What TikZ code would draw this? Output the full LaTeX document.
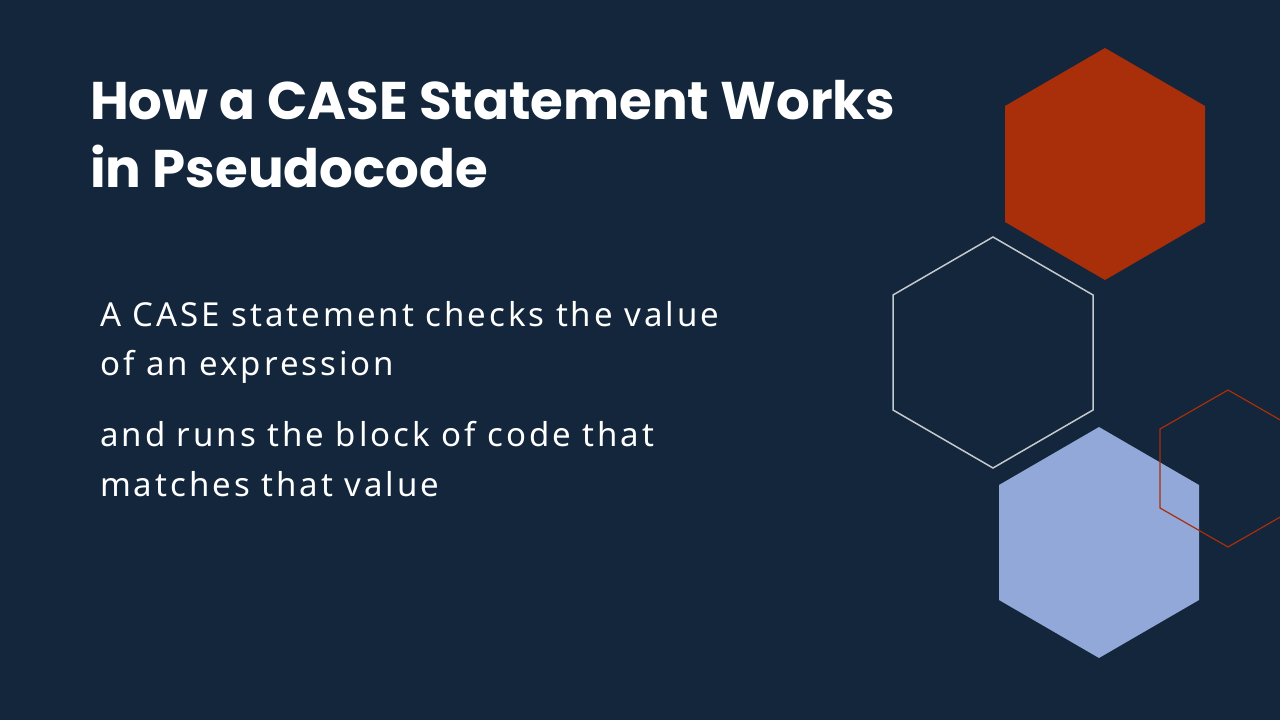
\documentclass[tikz,border=0pt]{standalone}
\usepackage{fontspec}
\setmainfont{Noto Sans}[LetterSpace=9]
\newfontfamily\titlefont{Poppins}
\definecolor{bg}{HTML}{13263B}
\definecolor{orng}{HTML}{A92E0A}
\definecolor{lblue}{HTML}{91A8D9}
\begin{document}
\begin{tikzpicture}[x=1pt,y=-1pt,
  title/.style={anchor=base west,text=white,font=\titlefont\fontsize{53}{60}\selectfont\bfseries,inner sep=0},
  body/.style={anchor=base west,text=white,font=\fontsize{33}{40}\selectfont,inner sep=0}]
\fill[bg] (0,0) rectangle (1280,720);
\useasboundingbox (0,0) rectangle (1280,720);
\begin{scope}
\clip (0,0) rectangle (1280,720);
\path[fill=orng] (1105,48) -- (1205,106) -- (1205,222) -- (1105,280) -- (1005,222) -- (1005,106) -- cycle;
\path[draw=white!75!bg,line width=1.5] (993,237) -- (1093,295) -- (1093,410) -- (993,468) -- (893,410) -- (893,295) -- cycle;
\path[fill=lblue] (1099,427) -- (1199,485) -- (1199,600) -- (1099,658) -- (999,600) -- (999,485) -- cycle;
\path[draw=orng,line width=1.2] (1228,390) -- (1296,429) -- (1296,508) -- (1228,547) -- (1160,508) -- (1160,429) -- cycle;
\end{scope}
\node[title] (t1) at (90,119) {How a CASE Statement Works};
\node[title] (t2) at (90,187) {in Pseudocode};
\node[body] (b1) at (100,326) {A CASE statement checks the value};
\node[body] (b2) at (100,375) {of an expression};
\node[body] (b3) at (100,446) {and runs the block of code that};
\node[body] (b4) at (100,496) {matches that value};
\end{tikzpicture}
\end{document}
